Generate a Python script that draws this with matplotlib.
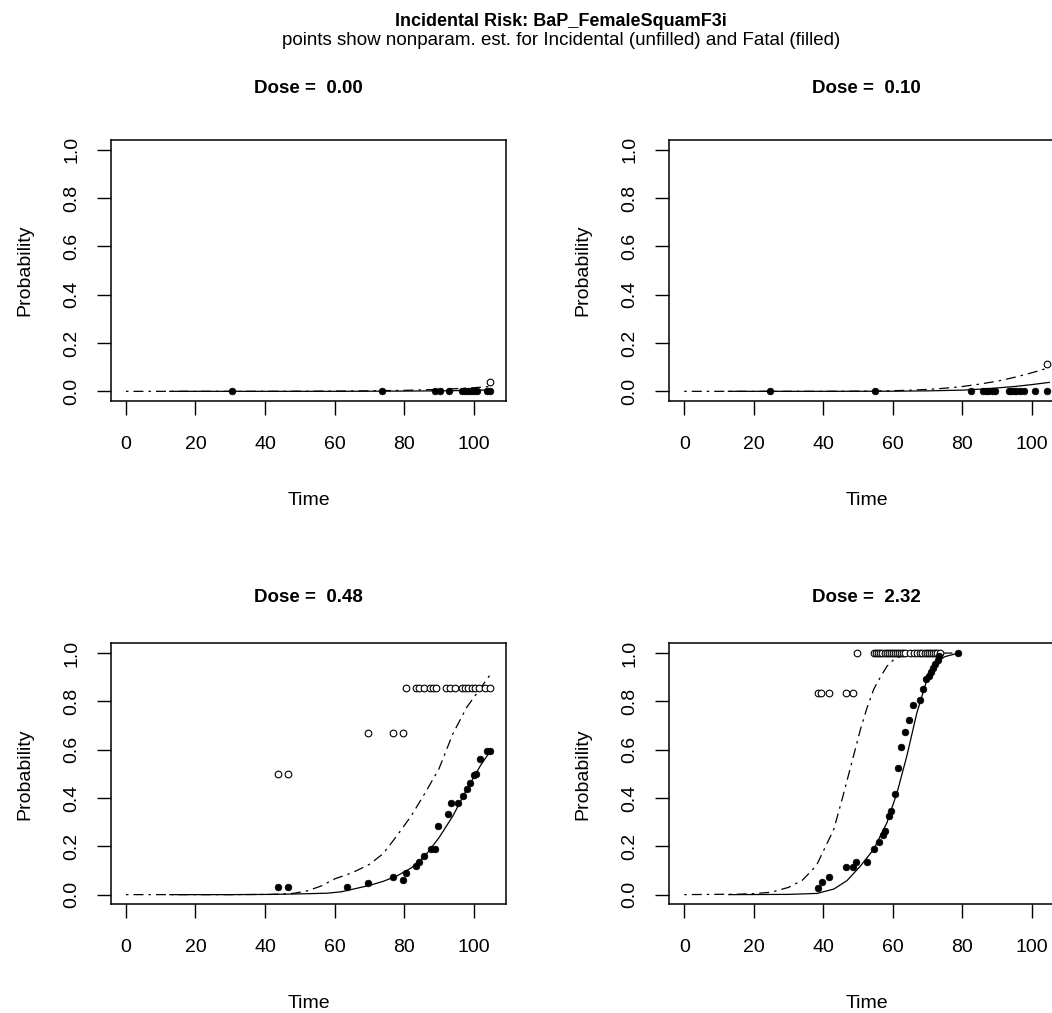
import numpy as np
import matplotlib
matplotlib.use("Agg")
import matplotlib.pyplot as plt

plt.rcParams['font.family'] = ['Liberation Sans', 'DejaVu Sans']

# ---- data -----------------------------------------------------------------
dose_labels = ["0.00", "0.10", "0.48", "2.32"]

# Dose 0.00
fatal_t0 = [30.6, 73.6, 89.0, 90.4, 92.8, 96.6, 97.5, 98.3, 99.2, 100.1, 101.0, 103.8, 104.6]
fatal_p0 = [0.0] * len(fatal_t0)
incid_t0 = [104.6]
incid_p0 = [0.04]
incfit_t0 = [0, 20, 40, 60, 70, 80, 90, 95, 100, 105]
incfit_p0 = [0, 0, 0, 0.001, 0.002, 0.004, 0.008, 0.011, 0.015, 0.02]
fatfit_t0 = [12.6, 40, 60, 80, 90, 100, 105]
fatfit_p0 = [0, 0, 0, 0.001, 0.002, 0.004, 0.006]

# Dose 0.10
fatal_t1 = [24.7, 54.9, 82.5, 86.0, 86.8, 87.5, 88.5, 89.5, 93.3, 94.0, 94.8,
            95.5, 96.5, 97.6, 101.0, 104.3]
fatal_p1 = [0.0] * len(fatal_t1)
incid_t1 = [104.3]
incid_p1 = [0.113]
incfit_t1 = [0, 20, 40, 55, 64, 70, 75, 80, 85, 90, 95, 100, 105]
incfit_p1 = [0, 0, 0, 0.001, 0.004, 0.008, 0.013, 0.02, 0.03, 0.042, 0.058, 0.077, 0.098]
fatfit_t1 = [12.7, 40, 60, 70, 80, 85, 90, 95, 100, 105]
fatfit_p1 = [0, 0, 0.0005, 0.002, 0.005, 0.009, 0.014, 0.02, 0.028, 0.037]

# Dose 0.48
fatal_t2 = [43.8, 46.7, 63.5, 69.5, 76.8, 79.6, 80.6, 83.5, 84.4, 85.8, 87.8, 88.8,
            89.7, 92.6, 93.6, 95.5, 96.9, 98.1, 98.9, 100.0, 100.8, 101.7, 103.8, 104.6]
fatal_p2 = [0.03, 0.03, 0.03, 0.048, 0.072, 0.06, 0.09, 0.117, 0.133, 0.16, 0.188, 0.188,
            0.285, 0.333, 0.381, 0.381, 0.408, 0.436, 0.461, 0.494, 0.498, 0.56, 0.594, 0.594]
incid_t2 = [43.8, 46.7, 69.5, 76.8, 79.6, 80.6, 83.5, 84.4, 85.8, 87.5, 88.3, 89.1,
            92.1, 93.1, 94.7, 96.6, 97.5, 98.5, 99.4, 100.4, 101.4, 103.3, 104.6]
incid_p2 = [0.5, 0.5, 0.667, 0.667, 0.667] + [0.857] * 18
incfit_t2 = [0, 30, 42, 48, 52, 56, 60, 65, 70, 74, 78, 82, 86, 90, 94, 98, 101, 105]
incfit_p2 = [0, 0, 0.001, 0.005, 0.015, 0.035, 0.065, 0.09, 0.125, 0.17, 0.245, 0.325,
             0.42, 0.52, 0.665, 0.775, 0.835, 0.915]
fatfit_t2 = [12.6, 30, 42, 50, 58, 62, 66, 70, 74, 78, 82, 86, 90, 94, 98, 102, 104.6]
fatfit_p2 = [0, 0, 0.001, 0.003, 0.006, 0.012, 0.025, 0.038, 0.055, 0.078, 0.11, 0.16,
             0.235, 0.325, 0.435, 0.535, 0.59]

# Dose 2.32
fatal_t3 = [38.6, 39.6, 41.5, 46.6, 48.5, 49.5, 52.5, 54.7, 55.9, 57.1, 57.8, 58.8, 59.4,
            60.5, 61.5, 62.4, 63.4, 64.6, 65.8, 67.7, 68.6, 69.6, 70.3, 71.0, 71.5, 72.2,
            72.9, 73.4, 78.7]
fatal_p3 = [0.026, 0.051, 0.072, 0.113, 0.113, 0.133, 0.133, 0.19, 0.216, 0.246, 0.264,
            0.326, 0.347, 0.415, 0.525, 0.612, 0.674, 0.722, 0.784, 0.804, 0.851, 0.892,
            0.903, 0.92, 0.938, 0.954, 0.97, 0.986, 1.0]
incid_t3 = [38.4, 39.4, 41.5, 46.5, 48.5, 49.7, 54.5, 55.2, 55.8, 56.4, 57.0, 57.6, 58.2,
            58.8, 59.4, 60.0, 60.6, 61.2, 61.8, 62.4, 63.0, 63.6, 64.8, 66.0, 66.9, 67.9,
            68.5, 69.1, 69.7, 70.3, 70.9, 71.5, 72.1, 72.7, 73.6]
incid_p3 = [0.833] * 5 + [1.0] * 30
incfit_t3 = [0, 16, 20, 25, 30, 34, 38, 40, 43, 45.5, 47.7, 50.6, 52.5, 54.5, 56.4, 58.3,
             60.2, 62, 66, 72, 79]
incfit_p3 = [0, 0.002, 0.004, 0.01, 0.03, 0.06, 0.12, 0.18, 0.27, 0.4, 0.52, 0.68, 0.77,
             0.85, 0.9, 0.945, 0.972, 0.985, 0.996, 0.999, 1.0]
fatfit_t3 = [12.8, 30, 38.2, 43, 46.8, 50.6, 54.5, 58.3, 61.2, 64, 66.9, 69.8, 72.7, 75, 79]
fatfit_p3 = [0, 0.001, 0.005, 0.023, 0.058, 0.117, 0.188, 0.298, 0.422, 0.573, 0.752,
             0.89, 0.965, 0.985, 1.0]

panels = [
    (fatal_t0, fatal_p0, incid_t0, incid_p0, incfit_t0, incfit_p0, fatfit_t0, fatfit_p0),
    (fatal_t1, fatal_p1, incid_t1, incid_p1, incfit_t1, incfit_p1, fatfit_t1, fatfit_p1),
    (fatal_t2, fatal_p2, incid_t2, incid_p2, incfit_t2, incfit_p2, fatfit_t2, fatfit_p2),
    (fatal_t3, fatal_p3, incid_t3, incid_p3, incfit_t3, incfit_p3, fatfit_t3, fatfit_p3),
]

# ---- layout (pixels) -------------------------------------------------------
W, H = 1052, 1013
AX_W, AX_H = 395, 261
lefts = [111, 669.3]    # right column runs past the image edge, as in the reference
tops = [140, 643.3]
title_pads = [34, 30]

fig = plt.figure(figsize=(W / 100, H / 100), dpi=100)

for i, (ft, fp, it, ip, ift, ifp, fft, ffp) in enumerate(panels):
    r, c = divmod(i, 2)
    rect = [lefts[c] / W, 1 - (tops[r] + AX_H) / H, AX_W / W, AX_H / H]
    ax = fig.add_axes(rect)

    ax.plot(ift, ifp, color='black', lw=0.9, linestyle=(0, (2, 4, 8, 4)))
    ax.plot(fft, ffp, color='black', lw=0.9)
    ax.plot(it, ip, linestyle='none', marker='o', ms=4.8, mfc='white', mec='black', mew=0.8)
    ax.plot(ft, fp, linestyle='none', marker='o', ms=4.8, mfc='black', mec='black', mew=0.5)

    ax.set_xlim(-4.3, 109.3)
    ax.set_ylim(-0.04, 1.04)
    ax.set_xticks([0, 20, 40, 60, 80, 100])
    ax.set_yticks([0.0, 0.2, 0.4, 0.6, 0.8, 1.0])
    ax.set_yticklabels(["0.0", "0.2", "0.4", "0.6", "0.8", "1.0"])
    ax.tick_params(direction='out', length=10, width=1, labelsize=14, pad=15)
    ax.tick_params(axis='y', labelrotation=90, pad=12)
    for lab in ax.get_yticklabels():
        lab.set_va('center')
    for sp in ax.spines.values():
        sp.set_linewidth(1.1)

    ax.set_xlabel("Time", fontsize=14, labelpad=28)
    ax.set_ylabel("Probability", fontsize=14, labelpad=22)
    ax.set_title(f"Dose =  {dose_labels[i]}", fontsize=13.5, fontweight='bold',
                 pad=title_pads[r])

fig.text(561 / W, 1 - 26 / H, "Incidental Risk: BaP_FemaleSquamF3i",
         ha='center', va='baseline', fontsize=13, fontweight='bold')
fig.text(561 / W, 1 - 45 / H,
         "points show nonparam. est. for Incidental (unfilled) and Fatal (filled)",
         ha='center', va='baseline', fontsize=13.5)

fig.savefig("out.png", dpi=100)
